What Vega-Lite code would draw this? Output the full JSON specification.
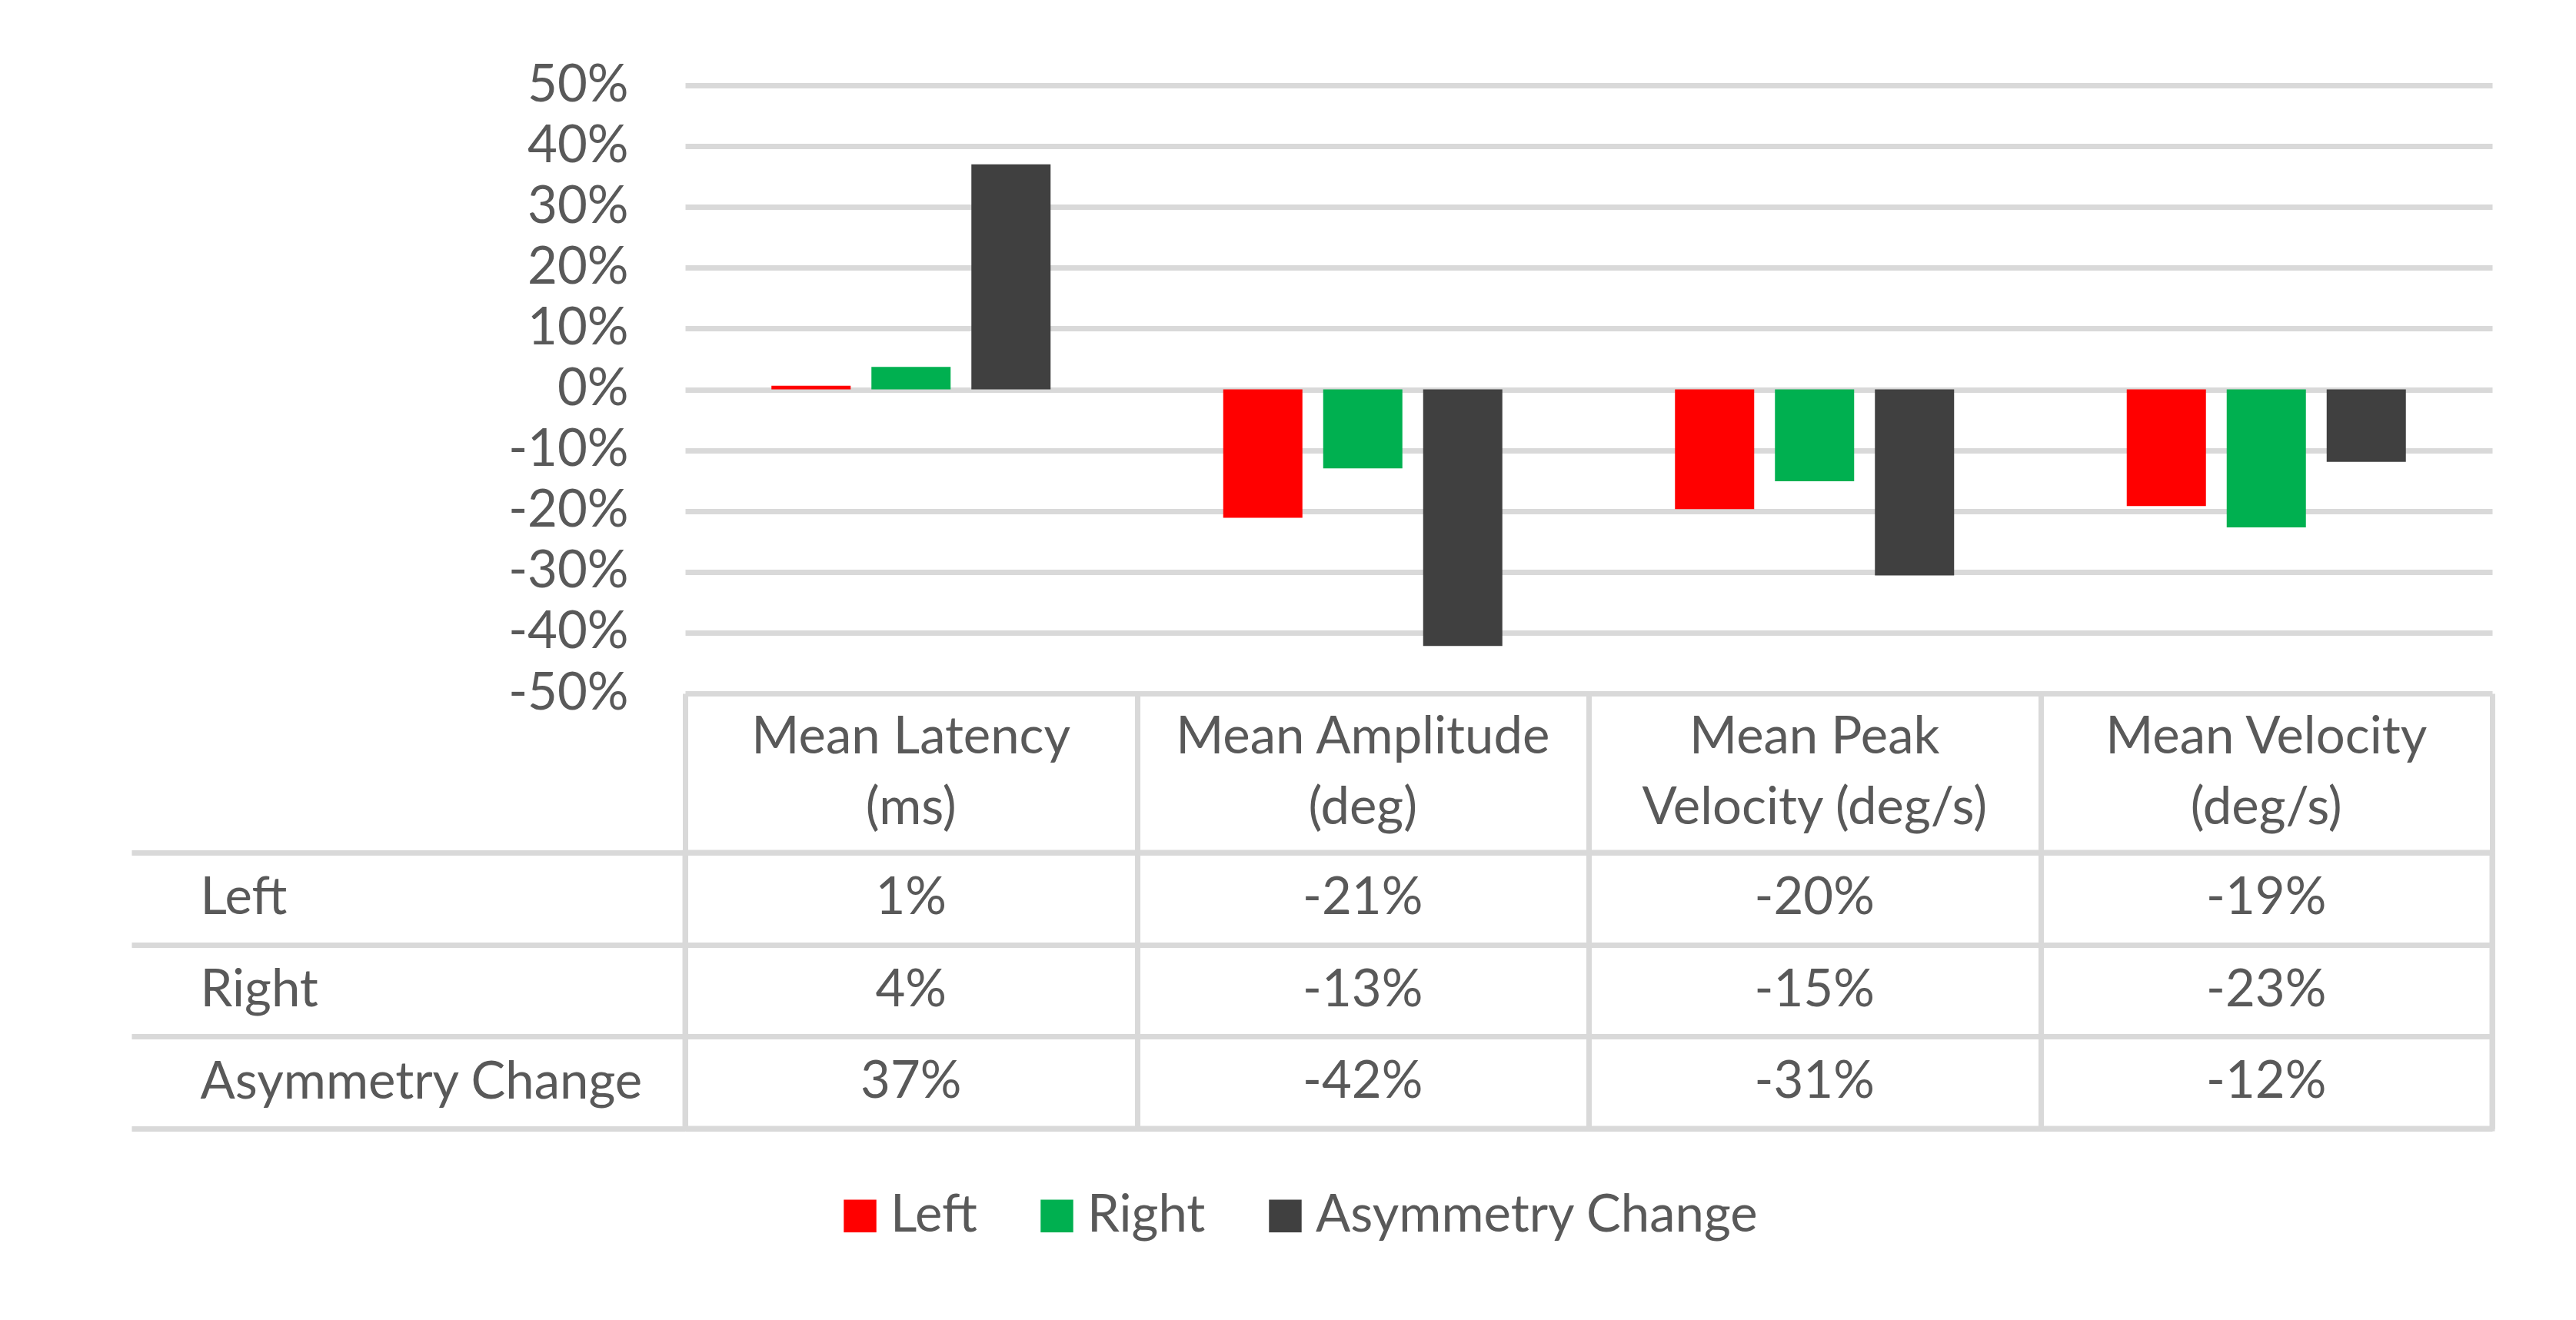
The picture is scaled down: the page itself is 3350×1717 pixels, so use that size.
{
  "$schema": "https://vega.github.io/schema/vega-lite/v6.json",
  "background": "white",
  "padding": {"left": 164, "top": 77, "right": 110, "bottom": 100},
  "spacing": 0,
  "bounds": "flush",
  "config": {
    "view": {"stroke": null},
    "font": "Lato",
    "axis": {"labelFont": "Lato", "labelFontSize": 67, "labelColor": "#595959"},
    "legend": {
      "labelFont": "Lato", "labelFontSize": 67, "labelColor": "#595959", "labelLimit": 1000,
      "symbolType": "square", "symbolStrokeWidth": 0, "padding": 0
    }
  },
  "datasets": {
    "main": [
      {"metric": "Mean Latency (ms)", "series": "Left", "value": 0.006},
      {"metric": "Mean Latency (ms)", "series": "Right", "value": 0.037},
      {"metric": "Mean Latency (ms)", "series": "Asymmetry Change", "value": 0.37},
      {"metric": "Mean Amplitude (deg)", "series": "Left", "value": -0.211},
      {"metric": "Mean Amplitude (deg)", "series": "Right", "value": -0.13},
      {"metric": "Mean Amplitude (deg)", "series": "Asymmetry Change", "value": -0.422},
      {"metric": "Mean Peak Velocity (deg/s)", "series": "Left", "value": -0.197},
      {"metric": "Mean Peak Velocity (deg/s)", "series": "Right", "value": -0.151},
      {"metric": "Mean Peak Velocity (deg/s)", "series": "Asymmetry Change", "value": -0.306},
      {"metric": "Mean Velocity (deg/s)", "series": "Left", "value": -0.192},
      {"metric": "Mean Velocity (deg/s)", "series": "Right", "value": -0.227},
      {"metric": "Mean Velocity (deg/s)", "series": "Asymmetry Change", "value": -0.119}
    ],
    "header": [
      {"metric": "Mean Latency (ms)", "line1": "Mean Latency", "line2": "(ms)"},
      {"metric": "Mean Amplitude (deg)", "line1": "Mean Amplitude", "line2": "(deg)"},
      {"metric": "Mean Peak Velocity (deg/s)", "line1": "Mean Peak", "line2": "Velocity (deg/s)"},
      {"metric": "Mean Velocity (deg/s)", "line1": "Mean Velocity", "line2": "(deg/s)"}
    ]
  },
  "data": {"name": "main"},
  "vconcat": [
    {
      "width": 2350,
      "height": 791,
      "mark": {"type": "bar"},
      "encoding": {
        "x": {
          "field": "metric", "type": "nominal", "title": null,
          "scale": {"domain": ["Mean Latency (ms)", "Mean Amplitude (deg)", "Mean Peak Velocity (deg/s)", "Mean Velocity (deg/s)"], "paddingInner": 0, "paddingOuter": 0},
          "axis": null
        },
        "xOffset": {"field": "series", "type": "nominal", "scale": {"domain": ["Left", "Right", "Asymmetry Change"], "paddingInner": 0.2077, "paddingOuter": 0.8635}},
        "y": {
          "field": "value", "type": "quantitative", "title": null,
          "scale": {"domain": [-0.5, 0.5], "nice": false},
          "axis": {
            "tickCount": 10, "format": ".0%", "domain": false, "ticks": false, "grid": true, "gridColor": "#d9d9d9", "gridWidth": 7,
            "labelPadding": 74, "labelExpr": "replace(datum.label, '\u2212', '-')"
          }
        },
        "color": {
          "field": "series", "type": "nominal", "title": null,
          "scale": {"domain": ["Left", "Right", "Asymmetry Change"], "range": ["#ff0000", "#00b050", "#404040"]},
          "legend": {"orient": "none", "direction": "horizontal", "legendX": 194, "legendY": 1437, "symbolSize": 1800, "labelOffset": 6, "columnPadding": 70}
        }
      }
    },
    {
      "width": 2350,
      "height": 207,
      "data": {"name": "header"},
      "layer": [
        {
          "mark": {"type": "text", "font": "Lato", "fontSize": 67, "fill": "#595959", "align": "center", "baseline": "middle", "dy": -46},
          "encoding": {
            "x": {
              "field": "metric", "type": "nominal", "title": null,
              "scale": {"domain": ["Mean Latency (ms)", "Mean Amplitude (deg)", "Mean Peak Velocity (deg/s)", "Mean Velocity (deg/s)"], "paddingInner": 0, "paddingOuter": 0},
              "axis": {"orient": "top", "labels": false, "ticks": false, "domain": false, "grid": true, "tickBand": "extent", "gridColor": "#d9d9d9", "gridWidth": 7}
            },
            "text": {"field": "line1", "type": "nominal"}
          }
        },
        {
          "mark": {"type": "text", "font": "Lato", "fontSize": 67, "fill": "#595959", "align": "center", "baseline": "middle", "dy": 46},
          "encoding": {
            "x": {"field": "metric", "type": "nominal", "title": null},
            "text": {"field": "line2", "type": "nominal"}
          }
        }
      ]
    },
    {
      "width": 2350,
      "height": 359,
      "view": {"stroke": "#d9d9d9", "strokeWidth": 7},
      "transform": [{"calculate": "replace(format(datum.value, '.0%'), '\u2212', '-')", "as": "label"}],
      "mark": {"type": "text", "font": "Lato", "fontSize": 67, "fill": "#595959", "align": "center", "baseline": "middle"},
      "encoding": {
        "x": {
          "field": "metric", "type": "nominal", "title": null,
          "scale": {"domain": ["Mean Latency (ms)", "Mean Amplitude (deg)", "Mean Peak Velocity (deg/s)", "Mean Velocity (deg/s)"], "paddingInner": 0, "paddingOuter": 0},
          "axis": {"orient": "top", "labels": false, "ticks": false, "domain": false, "grid": true, "tickBand": "extent", "gridColor": "#d9d9d9", "gridWidth": 7}
        },
        "y": {
          "field": "series", "type": "nominal", "title": null,
          "scale": {"domain": ["Left", "Right", "Asymmetry Change"], "paddingInner": 0, "paddingOuter": 0},
          "axis": {
            "orient": "left", "domain": false,
            "ticks": true, "tickSize": 720, "tickBand": "extent", "tickColor": "#d9d9d9", "tickWidth": 7,
            "grid": true, "gridColor": "#d9d9d9", "gridWidth": 7,
            "labelAlign": "left", "labelPadding": -89, "labelLimit": 1000
          }
        },
        "text": {"field": "label", "type": "nominal"}
      }
    }
  ]
}
